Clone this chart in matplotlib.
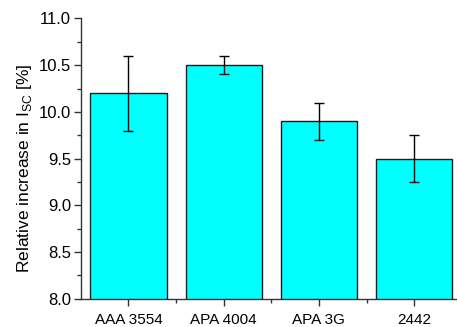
import matplotlib
matplotlib.use("Agg")
import matplotlib.pyplot as plt
from matplotlib.ticker import MultipleLocator, FixedLocator

categories = ["AAA 3554", "APA 4004", "APA 3G", "2442"]
values = [10.2, 10.5, 9.9, 9.5]
errors = [0.4, 0.1, 0.2, 0.25]

plt.rcParams['font.family'] = ['Liberation Sans', 'DejaVu Sans']

fig = plt.figure(figsize=(4.57, 3.27), dpi=100)
ax = fig.add_axes([0.177, 0.0866, 0.823, 0.857])

x = list(range(len(categories)))
ax.bar(x, values, width=0.8, bottom=0, color='#00FFFF', edgecolor='#1a1a1a', linewidth=1.0,
       yerr=errors, error_kw=dict(ecolor='black', elinewidth=1.0, capsize=3.5, capthick=1.0))

ax.set_ylim(8.0, 11.0)
ax.set_xlim(-0.5, 3.45)
ax.set_xticks(x)
ax.set_xticklabels(categories, fontsize=11)
ax.xaxis.set_minor_locator(FixedLocator([0.5, 1.5, 2.5]))
ax.yaxis.set_major_locator(MultipleLocator(0.5))
ax.yaxis.set_minor_locator(MultipleLocator(0.25))
ax.yaxis.set_major_formatter(matplotlib.ticker.FormatStrFormatter('%.1f'))
ax.tick_params(axis='y', labelsize=12, pad=2)
ax.tick_params(axis='x', pad=5)
ax.tick_params(which='major', direction='out', length=5, width=1, color='#333333')
ax.tick_params(which='minor', direction='out', length=3, width=1, color='#333333')
ax.spines['top'].set_visible(False)
ax.spines['right'].set_visible(False)
for s in ['left', 'bottom']:
    ax.spines[s].set_color('#333333')
    ax.spines[s].set_linewidth(1.0)
ax.set_ylabel("Relative increase in I$_{\\mathregular{SC}}$ [%]", fontsize=12.5, labelpad=5)
ax.yaxis.set_label_coords(-0.125, 0.465)

fig.savefig("out.png", dpi=100)
